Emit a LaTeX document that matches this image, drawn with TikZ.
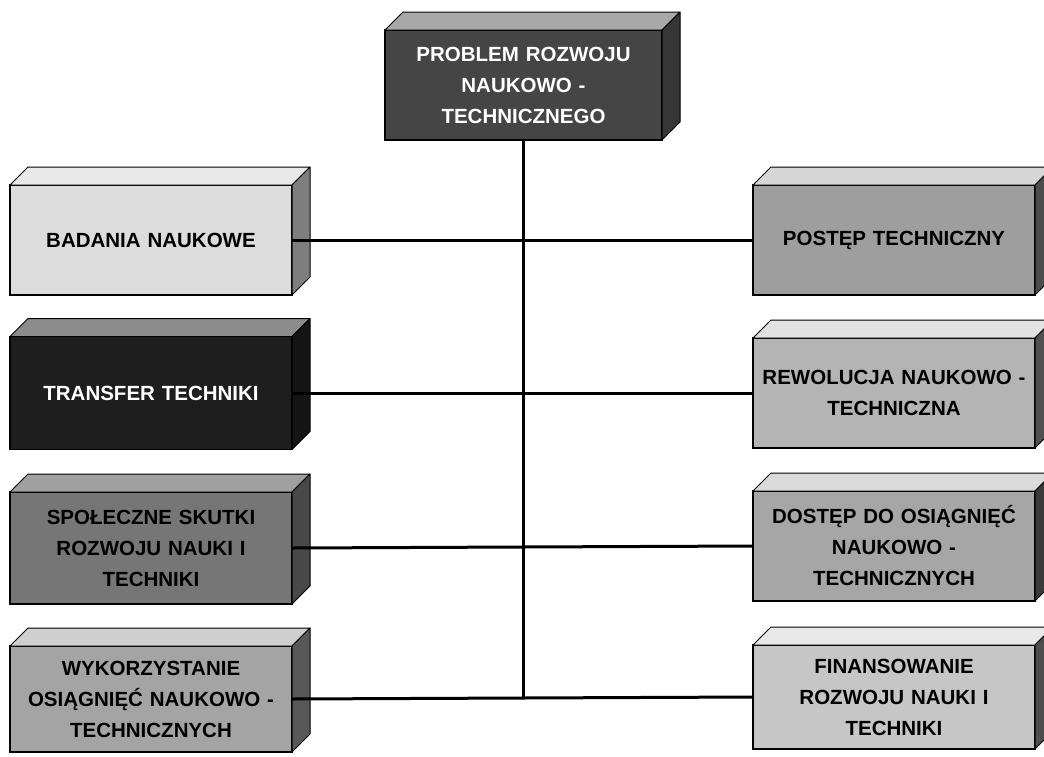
\documentclass[tikz,border=0pt]{standalone}
\usepackage{fontspec}
\setmainfont{Liberation Sans}
\usetikzlibrary{calc}
\definecolor{cTopF}{HTML}{454545}\definecolor{cTopT}{HTML}{A8A8A8}\definecolor{cTopS}{HTML}{363636}
\definecolor{cLaF}{HTML}{DCDCDC}\definecolor{cLaT}{HTML}{E9E9E9}\definecolor{cLaS}{HTML}{7E7E7E}
\definecolor{cLbF}{HTML}{1E1E1E}\definecolor{cLbT}{HTML}{8C8C8C}\definecolor{cLbS}{HTML}{141414}
\definecolor{cLcF}{HTML}{767676}\definecolor{cLcT}{HTML}{A0A0A0}\definecolor{cLcS}{HTML}{484848}
\definecolor{cLdF}{HTML}{A4A4A4}\definecolor{cLdT}{HTML}{CFCFCF}\definecolor{cLdS}{HTML}{585858}
\definecolor{cRaF}{HTML}{9E9E9E}\definecolor{cRaT}{HTML}{D6D6D6}\definecolor{cRaS}{HTML}{4C4C4C}
\definecolor{cRbF}{HTML}{B4B4B4}\definecolor{cRbT}{HTML}{E2E2E2}\definecolor{cRbS}{HTML}{505050}
\definecolor{cRcF}{HTML}{A6A6A6}\definecolor{cRcT}{HTML}{DADADA}\definecolor{cRcS}{HTML}{3A3A3A}
\definecolor{cRdF}{HTML}{C6C6C6}\definecolor{cRdT}{HTML}{E8E8E8}\definecolor{cRdS}{HTML}{4E4E4E}
\tikzset{
  cub/.style={draw=black, line width=1.4pt, rectangle, outer sep=0pt, inner sep=0pt,
    minimum width=282pt, align=center, text width=278pt,
    font=\fontsize{20.5}{31}\selectfont\bfseries},
  face/.style={draw=black, line width=1pt, line join=round},
  conn/.style={line width=3pt, draw=black},
}
\newcommand\cubsides[3]{%
  \filldraw[face, fill=#2] (#1.north west) -- ++(18pt,18pt) -- ($(#1.north east)+(18pt,18pt)$) -- (#1.north east) -- cycle;
  \filldraw[face, fill=#3] (#1.north east) -- ++(18pt,18pt) -- ($(#1.south east)+(18pt,18pt)$) -- (#1.south east) -- cycle;
}
\begin{document}
\begin{tikzpicture}[x=1pt,y=1pt]
\useasboundingbox (0,0) rectangle (1044,-756);
\fill[white] (0,0) rectangle (1044,-756);
% top
\node[cub, fill=cTopF, text=white, minimum width=277pt, text width=270pt, minimum height=110pt] (top) at (523.5,-85) {PROBLEM ROZWOJU\\NAUKOWO -\\TECHNICZNEGO};
\cubsides{top}{cTopT}{cTopS}
% left column
\node[cub, fill=cLaF, minimum height=110pt] (l1) at (151,-240) {BADANIA NAUKOWE};
\cubsides{l1}{cLaT}{cLaS}
\node[cub, fill=cLbF, text=white, minimum height=113pt] (l2) at (151,-393) {TRANSFER TECHNIKI};
\cubsides{l2}{cLbT}{cLbS}
\node[cub, fill=cLcF, minimum height=112pt] (l3) at (151,-548) {SPOŁECZNE SKUTKI\\ROZWOJU NAUKI I\\TECHNIKI};
\cubsides{l3}{cLcT}{cLcS}
\node[cub, fill=cLdF, minimum height=106pt] (l4) at (151,-699) {WYKORZYSTANIE\\OSIĄGNIĘĆ NAUKOWO -\\TECHNICZNYCH};
\cubsides{l4}{cLdT}{cLdS}
% right column
\node[cub, fill=cRaF, minimum height=110pt] (r1) at (894,-240) {POSTĘP TECHNICZNY};
\cubsides{r1}{cRaT}{cRaS}
\node[cub, fill=cRbF, minimum height=110pt] (r2) at (894,-393) {REWOLUCJA NAUKOWO -\\TECHNICZNA};
\cubsides{r2}{cRbT}{cRbS}
\node[cub, fill=cRcF, minimum height=110pt] (r3) at (894,-546) {DOSTĘP DO OSIĄGNIĘĆ\\NAUKOWO -\\TECHNICZNYCH};
\cubsides{r3}{cRcT}{cRcS}
\node[cub, fill=cRdF, minimum height=104pt] (r4) at (894,-697) {FINANSOWANIE\\ROZWOJU NAUKI I\\TECHNIKI};
\cubsides{r4}{cRdT}{cRdS}
% connectors
\coordinate (jb) at (top.south |- r4.west);
\draw[conn] (top.south) -- (jb);
\draw[conn] (l1.east) -- (r1.west);
\draw[conn] (l2.east) -- (r2.west);
\draw[conn] (l3.east) -- (r3.west);
\draw[conn] (l4.east) -- (r4.west);
\end{tikzpicture}
\end{document}
